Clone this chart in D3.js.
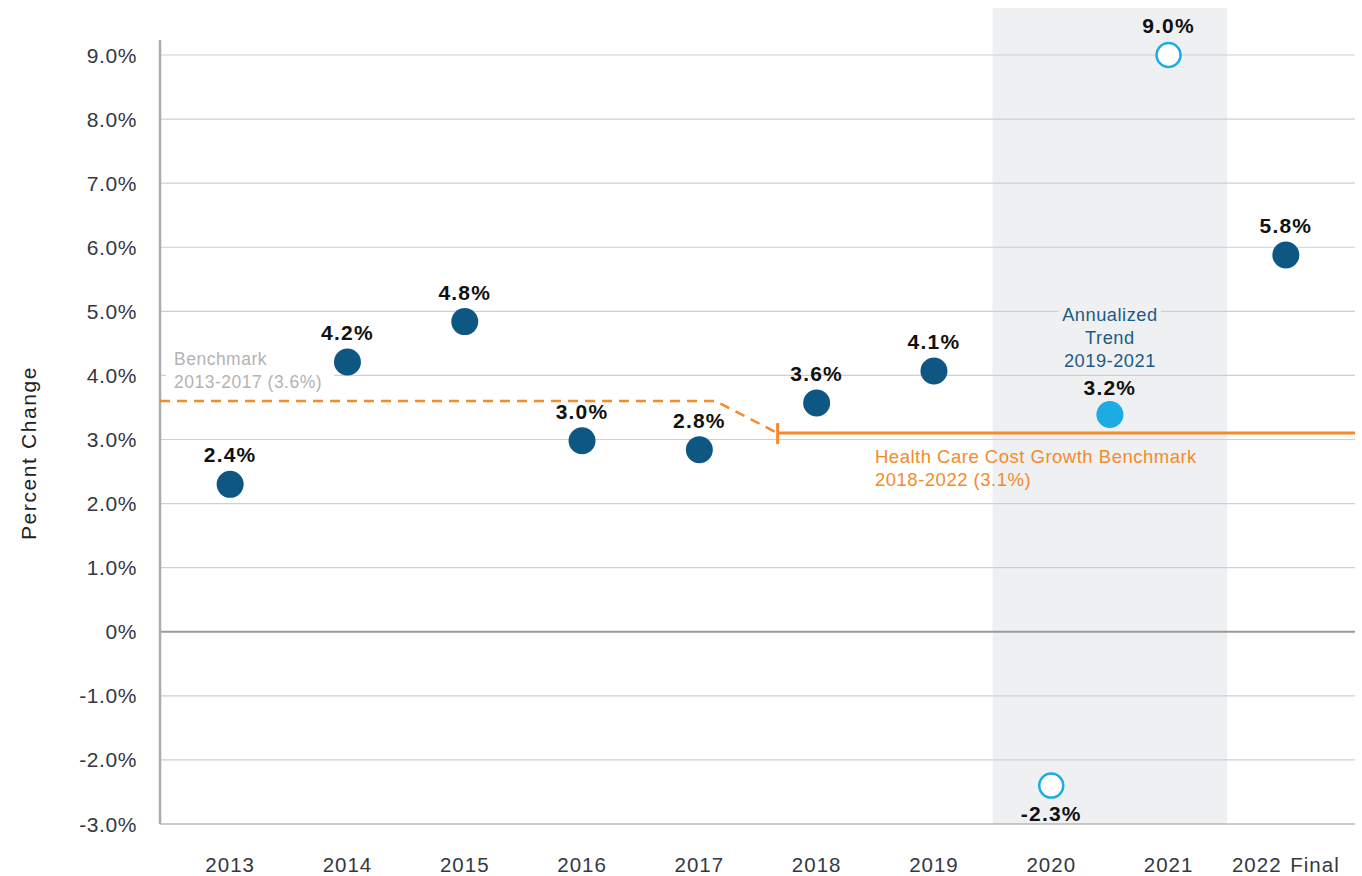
<!DOCTYPE html>
<html>
<head>
<meta charset="utf-8">
<script src="https://cdn.jsdelivr.net/npm/d3@7"></script>
<style>
  body { margin: 0; background: #fff; }
  svg { font-family: "Liberation Sans", Arial, Helvetica, sans-serif; }
</style>
</head>
<body>
<div id="chart"></div>
<script>
// data
var years = ["2013", "2014", "2015", "2016", "2017", "2018", "2019", "2020", "2021", "2022 Final"];
var values = [2.3, 4.21, 4.84, 2.98, 2.84, 3.57, 4.07, -2.4, 9.0, 5.88];
var labels = ["2.4%", "4.2%", "4.8%", "3.0%", "2.8%", "3.6%", "4.1%", "-2.3%", "9.0%", "5.8%"];
var covidYears = ["2020", "2021"];
var trendValue = 3.39;
var trendLabel = "3.2%";
var yTicks = [-3, -2, -1, 0, 1, 2, 3, 4, 5, 6, 7, 8, 9];
var oldBenchmark = 3.6;
var newBenchmark = 3.1;

var width = 1362;
var height = 876;
var plotLeft = 160;
var plotRight = 1355;

var navy = "#0f5783";
var sky = "#1cabe2";
var orange = "#f48a2a";

var svg = d3
  .select("#chart")
  .append("svg")
  .attr("width", width)
  .attr("height", height);

var x = d3.scaleBand().domain(years).range([171.5, 1344.5]);
var y = d3.scaleLinear().domain([-3, 9]).range([824, 55]);
var cx = function (d) {
  return x(d) + x.bandwidth() / 2;
};

// shaded covid years
svg
  .append("rect")
  .attr("x", x(covidYears[0]))
  .attr("y", 8)
  .attr("width", x(covidYears[1]) + x.bandwidth() - x(covidYears[0]))
  .attr("height", y(-3) - 8)
  .attr("fill", "#eff0f2");

// gridlines
svg
  .append("g")
  .selectAll("line")
  .data(yTicks)
  .enter()
  .append("line")
  .attr("x1", plotLeft)
  .attr("x2", plotRight)
  .attr("y1", function (d) { return y(d); })
  .attr("y2", function (d) { return y(d); })
  .attr("stroke", function (d) { return d === 0 || d === -3 ? "#9a9a9a" : "#cfcfcf"; })
  .attr("stroke-width", function (d) { return d === 0 ? 2 : 1.2; });

// y axis line
svg
  .append("line")
  .attr("x1", plotLeft)
  .attr("x2", plotLeft)
  .attr("y1", 40)
  .attr("y2", y(-3))
  .attr("stroke", "#a9acaf")
  .attr("stroke-width", 2.5);

// y tick labels
svg
  .append("g")
  .selectAll("text")
  .data(yTicks)
  .enter()
  .append("text")
  .attr("x", 137)
  .attr("y", function (d) { return y(d) + 7.5; })
  .attr("text-anchor", "end")
  .attr("font-size", 21)
  .attr("letter-spacing", 0.6)
  .attr("fill", "#353742")
  .text(function (d) { return d === 0 ? "0%" : d.toFixed(1) + "%"; });

// x labels
svg
  .append("g")
  .selectAll("text")
  .data(years)
  .enter()
  .append("text")
  .attr("x", cx)
  .attr("y", 872)
  .attr("text-anchor", "middle")
  .attr("font-size", 20.5)
  .attr("letter-spacing", 1)
  .attr("word-spacing", 2)
  .attr("fill", "#353742")
  .text(function (d) { return d; });

// axis title
svg
  .append("text")
  .attr("transform", "translate(36," + 453 + ") rotate(-90)")
  .attr("text-anchor", "middle")
  .attr("font-size", 21)
  .attr("letter-spacing", 1.6)
  .attr("fill", "#222")
  .text("Percent Change");

// label backgrounds (break gridlines)
svg.append("rect").attr("x", 166).attr("y", 346).attr("width", 168).attr("height", 44).attr("fill", "#fff");
svg.append("rect").attr("x", 1058).attr("y", 302).attr("width", 103).attr("height", 64).attr("fill", "#eff0f2");

// old benchmark, dashed
var bx1 = cx("2017") + 16;
var bx2 = cx("2018") - 39;
svg
  .append("path")
  .attr("d", d3.line()([
    [plotLeft, y(oldBenchmark)],
    [bx1, y(oldBenchmark)],
    [bx2, y(newBenchmark)]
  ]))
  .attr("fill", "none")
  .attr("stroke", orange)
  .attr("stroke-width", 2.5)
  .attr("stroke-dasharray", "10,7");

// new benchmark, solid
svg
  .append("line")
  .attr("x1", bx2)
  .attr("x2", plotRight)
  .attr("y1", y(newBenchmark))
  .attr("y2", y(newBenchmark))
  .attr("stroke", orange)
  .attr("stroke-width", 3);
svg
  .append("line")
  .attr("x1", bx2)
  .attr("x2", bx2)
  .attr("y1", y(newBenchmark) - 10)
  .attr("y2", y(newBenchmark) + 11)
  .attr("stroke", orange)
  .attr("stroke-width", 3);

// annotation texts
var bench = svg.append("text").attr("font-size", 17.5).attr("fill", "#b3b3b3").attr("letter-spacing", 0.5);
bench.append("tspan").attr("x", 174).attr("y", 365).text("Benchmark");
bench.append("tspan").attr("x", 174).attr("y", 388).text("2013-2017 (3.6%)");

var hc = svg.append("text").attr("font-size", 18.5).attr("fill", orange).attr("letter-spacing", 0.5);
hc.append("tspan").attr("x", 875).attr("y", 463).text("Health Care Cost Growth Benchmark");
hc.append("tspan").attr("x", 875).attr("y", 486).text("2018-2022 (3.1%)");

var trendX = (cx("2020") + cx("2021")) / 2;
var tr = svg.append("text").attr("font-size", 18.3).attr("fill", "#1d5b87").attr("text-anchor", "middle").attr("letter-spacing", 0.5);
tr.append("tspan").attr("x", trendX).attr("y", 321).text("Annualized");
tr.append("tspan").attr("x", trendX).attr("y", 344).text("Trend");
tr.append("tspan").attr("x", trendX).attr("y", 367).text("2019-2021");

// points
var pts = years.map(function (d, i) {
  return { year: d, value: values[i], label: labels[i], open: covidYears.indexOf(d) >= 0 };
});

svg
  .append("g")
  .selectAll("circle")
  .data(pts)
  .enter()
  .append("circle")
  .attr("cx", function (d) { return cx(d.year); })
  .attr("cy", function (d) { return y(d.value); })
  .attr("r", function (d) { return d.open ? 12 : 13.5; })
  .attr("fill", function (d) { return d.open ? "#fff" : navy; })
  .attr("stroke", function (d) { return d.open ? sky : "none"; })
  .attr("stroke-width", 2.5);

svg
  .append("circle")
  .attr("cx", trendX)
  .attr("cy", y(trendValue))
  .attr("r", 13.5)
  .attr("fill", sky);

// data labels
svg
  .append("g")
  .selectAll("text")
  .data(pts)
  .enter()
  .append("text")
  .attr("x", function (d) { return cx(d.year); })
  .attr("y", function (d) {
    return d.value < 0 ? y(d.value) + 35 : y(d.value) - 22;
  })
  .attr("text-anchor", "middle")
  .attr("font-size", 21)
  .attr("font-weight", "bold")
  .attr("letter-spacing", 1.2)
  .attr("fill", "#111")
  .text(function (d) { return d.label; });

svg
  .append("text")
  .attr("x", trendX)
  .attr("y", y(trendValue) - 20)
  .attr("text-anchor", "middle")
  .attr("font-size", 21)
  .attr("font-weight", "bold")
  .attr("letter-spacing", 1.2)
  .attr("fill", "#111")
  .text(trendLabel);
</script>
</body>
</html>
